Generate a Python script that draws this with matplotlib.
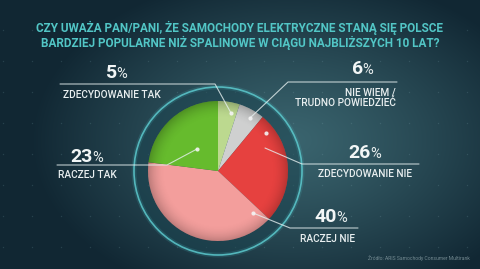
import matplotlib.pyplot as plt
import numpy as np
from matplotlib.patches import Circle, Wedge

W, H = 480, 269

title = ("CZY UWAŻA PAN/PANI, ŻE SAMOCHODY ELEKTRYCZNE STANĄ SIĘ POLSCE\n"
         "BARDZIEJ POPULARNE NIŻ SPALINOWE W CIĄGU NAJBLIŻSZYCH 10 LAT?")
source = "Źródło: ARIS Samochody Consumer Multirank"

# slices clockwise from 12 o'clock
categories = ['ZDECYDOWANIE TAK', 'NIE WIEM /\nTRUDNO POWIEDZIEĆ',
              'ZDECYDOWANIE NIE', 'RACZEJ NIE', 'RACZEJ TAK']
values = [5, 6, 26, 40, 23]
colors = ['#bcd98f', '#cfd0d0', '#e6413f', '#f39e9c', '#66bb2d']

# label layout in pixel coords (y down):
# number centre, label centre, label alignment, leader line points, dot
layout = [
    dict(num=(112, 72), lab=(112, 95), ha='center',
         line=[(60, 84), (215, 84), (231, 113)], dot=(231, 113)),
    dict(num=(358, 68), lab=(396, 98), ha='right',
         line=[(397, 82), (288, 82), (250, 118)], dot=(250, 118)),
    dict(num=(366, 152), lab=(365, 174), ha='center',
         line=[(419, 164), (302, 164), (265, 148)], dot=(266, 133)),
    dict(num=(332, 216), lab=(328, 239), ha='center',
         line=[(358, 228), (290, 228), (253, 213)], dot=(253, 213)),
    dict(num=(88, 155), lab=(87, 175), ha='center',
         line=[(57, 165), (167, 165), (197, 149)], dot=(197, 149)),
]

cx, cy, R = 218, 171, 70
ring_r = 84

plt.rcParams['font.family'] = ['Roboto', 'DejaVu Sans']

fig = plt.figure(figsize=(W / 100, H / 100), dpi=100)
ax = fig.add_axes([0, 0, 1, 1])

# background: dark teal with lighter haze in the middle
yy, xx = np.mgrid[0:H, 0:W]
d = np.sqrt(((xx - 290) / 260.0) ** 2 + ((yy - 140) / 170.0) ** 2)
t = np.clip(d, 0, 1) ** 1.2
inner = np.array([0x3a, 0x64, 0x6e]) / 255
outer = np.array([0x11, 0x27, 0x33]) / 255
bg = inner[None, None, :] * (1 - t[..., None]) + outer[None, None, :] * t[..., None]
ax.imshow(bg, extent=(0, W, H, 0), zorder=0, interpolation='bilinear')

# faint grid of dots in the background
gx, gy = np.meshgrid(np.arange(3, W, 29), np.arange(30, H, 31))
ax.scatter(gx.ravel(), gy.ravel(), s=1.0, color='#8fb8c0', alpha=0.18,
           linewidths=0, zorder=1)

# darker band and glowing ring round the pie
ax.add_patch(Wedge((cx, cy), ring_r, 0, 360, width=ring_r - R,
                   facecolor='#1b4450', alpha=0.5, edgecolor='none', zorder=2))
ax.add_patch(Circle((cx, cy), ring_r, fill=False, edgecolor='#4fc6cc',
                    lw=3.5, alpha=0.15, zorder=2))
ax.add_patch(Circle((cx, cy), ring_r, fill=False, edgecolor='#5fd0d4',
                    lw=1.2, alpha=0.8, zorder=3))

# y axis is inverted, so start at 270 and go counterclockwise in data space
wedges, _ = ax.pie(values, colors=colors, startangle=270, counterclock=True,
                   center=(cx, cy), radius=R,
                   wedgeprops=dict(linewidth=0, zorder=4))

# soft shading on the rim of the pie
r = np.sqrt((xx - cx) ** 2 + (yy - cy) ** 2) / R
shade = np.zeros((H, W, 4))
shade[..., 3] = np.clip((r - 0.75) / 0.25, 0, 1) ** 2 * 0.22
sh = ax.imshow(shade, extent=(0, W, H, 0), zorder=5, interpolation='bilinear')
sh.set_clip_path(Circle((cx, cy), R, transform=ax.transData))

ax.set_xlim(0, W)
ax.set_ylim(H, 0)
ax.set_aspect('auto')
ax.axis('off')

ax.text(W / 2, 35.5, title, ha='center', va='center', color='#52c6c6',
        fontsize=8.5, fontweight='bold', linespacing=1.1, zorder=6)

for v, cat, lay in zip(values, categories, layout):
    xs, ys = zip(*lay['line'])
    ax.plot(xs, ys, color='#e6f0f0', lw=0.8, alpha=0.8, zorder=6,
            solid_capstyle='round')
    ax.scatter(*lay['dot'], s=9, color='#f4f4f4', alpha=0.9, linewidths=0,
               zorder=7)
    nx, ny = lay['num']
    ax.text(nx + 5, ny + 6.5, str(v), ha='right', va='baseline',
            color='#f2f6f6', fontsize=14, fontweight='bold', zorder=6)
    ax.text(nx + 4, ny + 6.5, '%', ha='left', va='baseline', color='#e8eeee',
            fontsize=10.5, zorder=6)
    lx, ly = lay['lab']
    ax.text(lx, ly, cat, ha=lay['ha'], va='center', multialignment=lay['ha'],
            color='#e9eff0', fontsize=7.3, fontweight='medium',
            linespacing=1.0, zorder=6)

ax.text(470, 258, source, ha='right', va='center', color='#8aa0a6',
        fontsize=3.6, alpha=0.8, zorder=6)

fig.savefig('out.png', dpi=100)
